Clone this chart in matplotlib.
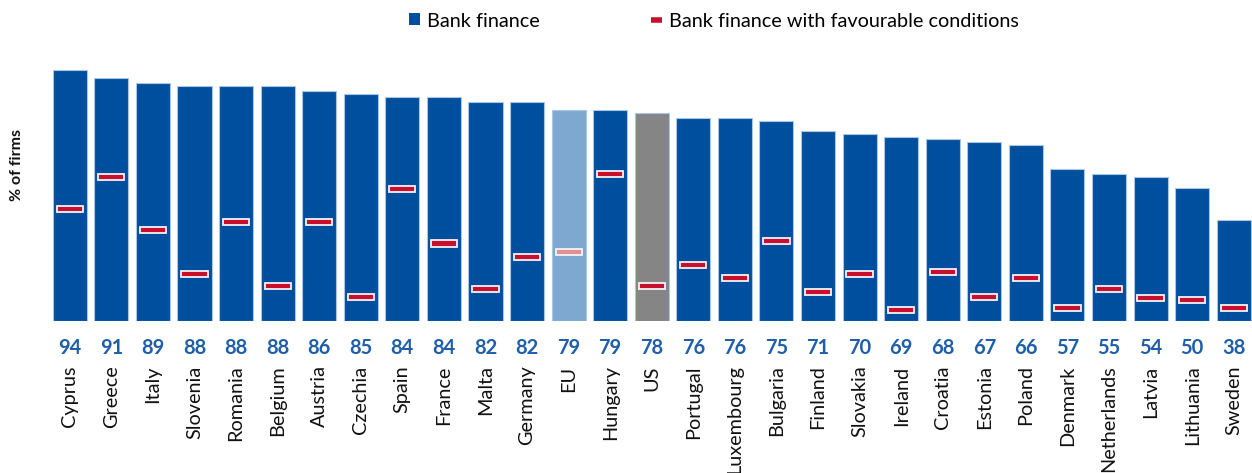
import matplotlib
matplotlib.use("Agg")
import matplotlib.pyplot as plt
from matplotlib.patches import Patch, Rectangle
from matplotlib.lines import Line2D

countries = ["Cyprus", "Greece", "Italy", "Slovenia", "Romania", "Belgium", "Austria",
             "Czechia", "Spain", "France", "Malta", "Germany", "EU", "Hungary", "US",
             "Portugal", "Luxembourg", "Bulgaria", "Finland", "Slovakia", "Ireland",
             "Croatia", "Estonia", "Poland", "Denmark", "Netherlands", "Latvia",
             "Lithuania", "Sweden"]
bank_finance = [94, 91, 89, 88, 88, 88, 86, 85, 84, 84, 82, 82, 79, 79, 78, 76, 76,
                75, 71, 70, 69, 68, 67, 66, 57, 55, 54, 50, 38]
favourable = [42, 54, 34, 17.5, 37, 13, 37, 9, 49.5, 29, 12, 24, 26, 55, 13, 21, 16,
              30, 11, 17.5, 4, 18.5, 9, 16, 5, 12, 8.5, 8, 5]

BLUE = "#004F9E"
LIGHT_BLUE = "#7FA8D1"
GREY = "#858585"
RED = "#C8102E"
PINK = "#E38D96"
LABEL_BLUE = "#1F5FAA"

plt.rcParams["font.family"] = ["Lato", "DejaVu Sans"]

fig = plt.figure(figsize=(12.52, 4.73), dpi=100)
ax = fig.add_axes([49 / 1252, (473 - 321) / 473, (1252 - 49) / 1252, 267 / 473])

x = list(range(len(countries)))
bar_colors = [LIGHT_BLUE if c == "EU" else GREY if c == "US" else BLUE for c in countries]
ax.bar(x, bank_finance, width=0.82, color=bar_colors, edgecolor="#A9C6E4",
       linewidth=0.8, zorder=2)

# favourable-conditions markers: short red dashes with a white rim
mark_w = 0.63
mark_h = 2.3
for i, (c, v) in enumerate(zip(countries, favourable)):
    fc = PINK if c == "EU" else RED
    ax.add_patch(Rectangle((i - mark_w / 2, v - mark_h / 2), mark_w, mark_h,
                           facecolor=fc, edgecolor="#F4F4F4", linewidth=1.3, zorder=3))

for i, v in enumerate(bank_finance):
    ax.annotate(f"{v}", xy=(i, 0), xytext=(0, -19.5), textcoords="offset points",
                ha="center", va="center", fontsize=14.5, fontweight="bold",
                color=LABEL_BLUE, annotation_clip=False)

ax.set_xlim(-0.5, 28.44)
ax.set_ylim(0, 100)
ax.set_xticks(x)
ax.set_xticklabels(countries, rotation=90, fontsize=14.3, color="#111111")
ax.tick_params(axis="x", length=0, pad=32)
ax.set_yticks([])
for s in ax.spines.values():
    s.set_visible(False)

fig.text(17 / 1252, 1 - 165 / 473, "% of firms", rotation=90, ha="center", va="center",
         fontsize=11.5, fontweight="bold", color="#111111")

handles = [
    Patch(facecolor=BLUE, edgecolor="none"),
    Line2D([], [], color=RED, linewidth=4, solid_capstyle="butt"),
]
leg = fig.legend(handles, ["Bank finance", "Bank finance with favourable conditions"],
                 loc="center", bbox_to_anchor=(714 / 1252, 1 - 21 / 473), ncol=2,
                 frameon=False, fontsize=14.3, handlelength=0.55, handleheight=0.55,
                 handletextpad=0.35, columnspacing=5.6)

fig.savefig("out.png", dpi=100)
